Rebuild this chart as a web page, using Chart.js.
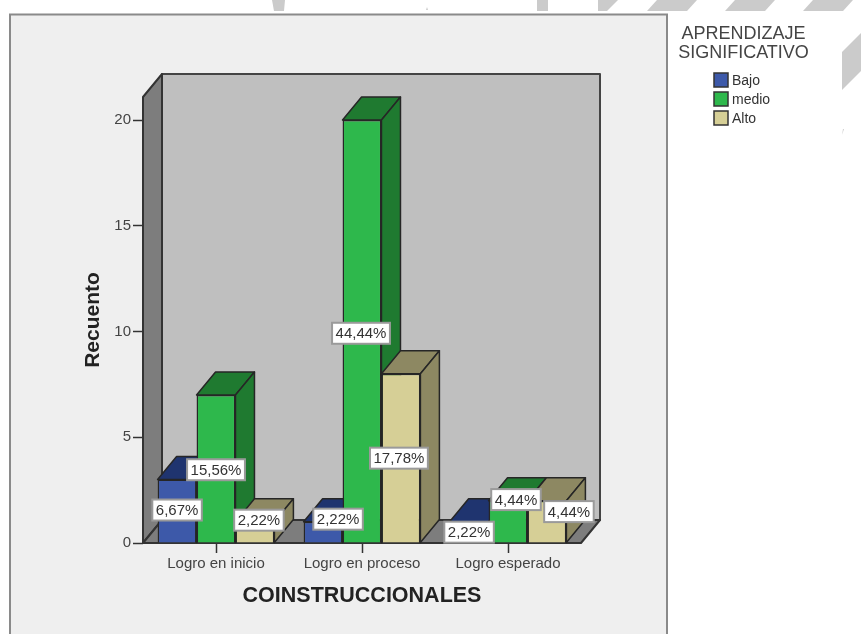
<!DOCTYPE html>
<html><head><meta charset="utf-8">
<style>html,body{margin:0;padding:0;background:#fff}canvas{display:block;filter:blur(0.5px)}</style>
<script src="https://cdn.jsdelivr.net/npm/chart.js@4"></script></head>
<body><canvas id="c" width="861" height="634"></canvas>
<script>
const categories = ['Logro en inicio','Logro en proceso','Logro esperado'];
const bajo  = [3,1,1];
const medio = [7,20,2];
const alto  = [1,8,2];
const pctBajo  = ['6,67%','2,22%','2,22%'];
const pctMedio = ['15,56%','44,44%','4,44%'];
const pctAlto  = ['2,22%','17,78%','4,44%'];
const legendTitle = ['APRENDIZAJE','SIGNIFICATIVO'];

const DX = 19, DY = 23;
const ink = '#262626';
const faces = [
  {front:'#3d59a9', top:'#1f346f', side:'#1f346f'},
  {front:'#2eb84c', top:'#1f7a30', side:'#1f7a30'},
  {front:'#d6cf96', top:'#8d8862', side:'#8d8862'}
];
// label displacement from bar centre (SPSS moves labels apart)
const nudges = [
  [[0,-1],[15,-13],[0,0]],
  [[0,1],[-1,2],[8,-22]],
  [[4,-12],[-2,0],[22,-10]]
];
const pctLabels = [pctBajo,pctMedio,pctAlto];

function poly(ctx,pts,fill,stroke,lw){
  ctx.beginPath();pts.forEach((p,i)=>i?ctx.lineTo(p[0],p[1]):ctx.moveTo(p[0],p[1]));ctx.closePath();
  if(fill){ctx.fillStyle=fill;ctx.fill();}
  if(stroke){ctx.strokeStyle=stroke;ctx.lineWidth=lw||1;ctx.stroke();}
}

const scene = {
  id:'scene',
  beforeDraw(chart){
    const c=chart.ctx;
    c.save();
    c.fillStyle='#fff';c.fillRect(0,0,861,634);
    const g='#cbcbcb';
    [[[272,0],[285,0],[284,11],[274,11]],
     [[537,0],[548,0],[548,11],[537,11]],
     [[598,0],[618,0],[607,11],[598,11]],
     [[657,0],[697,0],[687,11],[647,11]],
     [[735,0],[775,0],[765,11],[725,11]],
     [[813,0],[853,0],[843,11],[803,11]],
     [[842,52],[861,33],[861,71],[842,90]],
     [[426,10],[428,10],[427,7]],
     [[842,135],[843,129],[844,129]]].forEach(p=>poly(c,p,g));
    c.fillStyle='#efefef';c.fillRect(10,14,657,620);
    c.strokeStyle='#8a8a8a';c.lineWidth=2;
    c.beginPath();c.moveTo(10,634);c.lineTo(10,14.5);c.lineTo(667,14.5);c.lineTo(667,634);c.stroke();
    c.restore();
  },
  beforeDatasetsDraw(chart){
    const c=chart.ctx,a=chart.chartArea;
    const l=a.left,r=a.right,t=a.top,b=a.bottom;
    c.save();c.lineJoin='round';
    poly(c,[[l+DX,t-DY],[r+DX,t-DY],[r+DX,b-DY],[l+DX,b-DY]],'#bfbfbf','#444',2);
    poly(c,[[l,t],[l+DX,t-DY],[l+DX,b-DY],[l,b]],'#7d7d7d','#333',2);
    poly(c,[[l,b],[l+DX,b-DY],[r+DX,b-DY],[r,b]],'#7d7d7d','#333',2);
    c.restore();
  },
  beforeDatasetDraw(){ return false; },
  afterDatasetsDraw(chart){
    const c=chart.ctx;
    const metas=[0,1,2].map(i=>chart.getDatasetMeta(i));
    c.save();c.lineJoin='round';
    categories.forEach((_,i)=>{
      metas.forEach((m,j)=>{
        const e=m.data[i],p=e.getProps(['x','y','base','width'],true);
        const x0=p.x-p.width/2,x1=p.x+p.width/2;
        poly(c,[[x0,p.y],[x1,p.y],[x1+DX,p.y-DY],[x0+DX,p.y-DY]],faces[j].top,ink,1.5);
        poly(c,[[x1,p.y],[x1+DX,p.y-DY],[x1+DX,p.base-DY],[x1,p.base]],faces[j].side,ink,1.5);
        e.draw(c);
      });
    });
    c.restore();
    // value boxes
    c.save();
    c.font='15px "Liberation Sans"';c.textAlign='center';c.textBaseline='middle';
    metas.forEach((m,j)=>m.data.forEach((e,i)=>{
      const p=e.getProps(['x','y','base'],true),n=nudges[j][i];
      const cx=p.x+n[0],cy=(p.y+p.base)/2+n[1];
      const s=pctLabels[j][i],w=c.measureText(s).width+7,h=21;
      c.fillStyle='#fff';c.strokeStyle='#9a9a9a';c.lineWidth=2;
      c.fillRect(cx-w/2,cy-h/2,w,h);c.strokeRect(cx-w/2,cy-h/2,w,h);
      c.fillStyle='#333';c.fillText(s,cx,cy+1);
    }));
    c.restore();
    // legend
    c.save();
    c.fillStyle='#444';c.textAlign='center';c.textBaseline='middle';
    c.font='18px "Liberation Sans"';
    legendTitle.forEach((s,i)=>c.fillText(s,743.5,34+i*19));
    c.textAlign='left';c.font='14px "Liberation Sans"';
    chart.data.datasets.forEach((d,i)=>{
      const y=73+i*19;
      c.fillStyle=d.backgroundColor;c.strokeStyle='#333';c.lineWidth=1.5;
      c.fillRect(714,y,14,14);c.strokeRect(714,y,14,14);
      c.fillStyle='#333';c.fillText(d.label,732,y+8);
    });
    c.restore();
  }
};

new Chart(document.getElementById('c'),{
  type:'bar',
  data:{labels:categories,datasets:[
    {label:'Bajo',data:bajo,backgroundColor:faces[0].front,borderColor:ink,borderWidth:1.5},
    {label:'medio',data:medio,backgroundColor:faces[1].front,borderColor:ink,borderWidth:1.5},
    {label:'Alto',data:alto,backgroundColor:faces[2].front,borderColor:ink,borderWidth:1.5}
  ]},
  options:{
    responsive:false,animation:false,
    layout:{padding:{left:81,right:280,top:97,bottom:25}},
    datasets:{bar:{categoryPercentage:0.8,barPercentage:1}},
    plugins:{legend:{display:false},tooltip:{enabled:false},title:{display:false}},
    scales:{
      x:{
        grid:{offset:false,drawOnChartArea:false,tickLength:10,tickColor:'#333',tickWidth:1.5},
        border:{display:false},
        ticks:{color:'#444',font:{family:'Liberation Sans',size:15},padding:2,maxRotation:0},
        title:{display:true,text:'COINSTRUCCIONALES',color:'#222',font:{family:'Liberation Sans',size:21.5,weight:'bold'},padding:0},
        afterFit(s){s.height=66;}
      },
      y:{
        min:0,max:21.09,
        grid:{drawOnChartArea:false,tickLength:10,tickColor:'#333',tickWidth:1.5},
        border:{display:false},
        ticks:{stepSize:5,includeBounds:false,color:'#444',font:{family:'Liberation Sans',size:15},padding:2},
        title:{display:true,text:'Recuento',color:'#222',font:{family:'Liberation Sans',size:21,weight:'bold'},padding:0},
        afterFit(s){s.width=62;}
      }
    }
  },
  plugins:[scene]
});
</script></body></html>
